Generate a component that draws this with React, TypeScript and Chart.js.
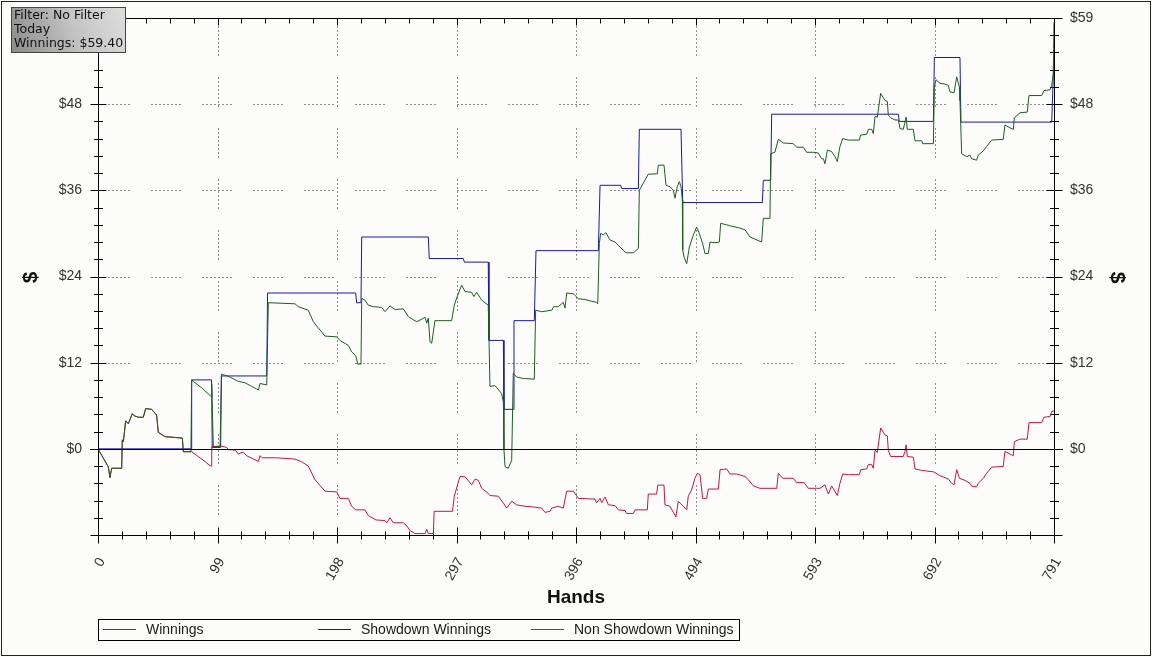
import React, { useEffect, useRef } from "react";
import { Chart, registerables } from "chart.js";

Chart.register(...registerables);

// ---- data (hand, $) ----
const winnings: [number, number][] = [
  [0, 0], [3, -0.9], [8.5, -2.5], [9.9, -4.0], [11.3, -2.7], [19.6, -2.7], [20.1, 1.25], [21, 1.0], [22.9, 3.9], [25.1, 3.5],
  [28.4, 4.9], [30, 4.6], [33.4, 4.4], [37.5, 4.4], [39.4, 5.6], [44.4, 5.5], [48.5, 4.7], [49.9, 2.3], [55.4, 1.7], [69.8, 1.5],
  [70.6, -0.4], [76.9, -0.4], [77.5, 9.6], [80.3, 9.2], [85.8, 8.5], [93.5, 7.3], [94.1, 9.0], [95.4, 0.3], [101, 0.3], [102.3, 10.4],
  [104, 10.3], [107.8, 10.1], [116.1, 9.4], [121.6, 9.2], [127.2, 8.7], [132.7, 8.2], [134, 9.1], [139.6, 8.9], [140.9, 20.35], [163, 20.2],
  [165.7, 19.8], [174, 19.3], [178.2, 17.7], [187.8, 15.7], [197.5, 15.6], [200.2, 15.1], [207.1, 14.4], [209.9, 13.5], [213.2, 13.0], [214.9, 11.8],
  [217.6, 11.8], [218.2, 20.95], [220.9, 20.7], [223.7, 20.0], [227.8, 19.8], [234.7, 19.7], [237.5, 19.1], [241.6, 19.9], [245.7, 19.4], [252.6, 19.5],
  [256.8, 18.4], [263.7, 17.7], [270.6, 18.3], [272, 17.5], [273.3, 18.2], [274.7, 14.9], [276.1, 14.7], [278.8, 17.85], [292.6, 17.85], [294.8, 20.0],
  [297.6, 21.4], [300.9, 22.8], [303.7, 21.9], [309.2, 21.8], [311, 21.2], [313.3, 21.8], [317.5, 20.7], [322.9, 20.0], [323.5, 15.6], [324.3, 8.7],
  [328.5, 8.8], [334, 7.7], [335.4, 6.5], [335.9, -0.1], [336.8, -2.5], [339.5, -2.7], [342.3, -1.6], [343.6, 10.5], [346.4, 10.0], [351.9, 9.8],
  [361, 9.7], [362.1, 19.3], [367.1, 19.1], [375.4, 19.3], [377, 19.8], [380.9, 19.8], [385, 20.4], [386.4, 19.6], [387.8, 21.7], [393.3, 21.6],
  [397.5, 20.9], [402.9, 20.8], [407.1, 20.6], [412.6, 20.4], [413.5, 20.2], [414.8, 28.6], [415.9, 30.0], [418.1, 29.8], [420.3, 30.1], [423.6, 29.1],
  [427.8, 28.8], [431.9, 28.1], [436.9, 27.3], [442.9, 27.3], [447.1, 27.9], [447.9, 36.0], [455.3, 38.25], [462.8, 38.3], [463.6, 39.5], [468.3, 39.5],
  [470, 36.7], [473.3, 36.5], [476, 36.0], [477.4, 34.9], [479.3, 36.5], [481, 37.2], [482.4, 36.5], [483.5, 34.6], [483.8, 27.7], [484.9, 26.7],
  [487.1, 25.8], [489.3, 28.1], [492, 29.5], [495.3, 30.9], [497.5, 30.0], [500.3, 28.6], [502.2, 27.2], [505, 27.2], [506.4, 28.8], [510.5, 28.7],
  [514.1, 28.8], [515.2, 31.4], [520.2, 31.2], [524.3, 31.0], [529.8, 30.8], [535.3, 30.5], [539.5, 29.5], [543.6, 29.2], [549.1, 28.8], [550.5, 32.1],
  [556, 32.1], [556.6, 41.1], [560.1, 41.3], [562.9, 43.1], [567, 42.6], [575.3, 42.5], [578.1, 42.0], [583.6, 42.0], [586.3, 41.3], [591.8, 41.3],
  [596, 41.2], [598.7, 40.4], [600.2, 40.4], [601.5, 39.7], [603.5, 41.6], [607, 41.4], [609.8, 40.7], [611.7, 40.0], [613.9, 42.1], [616.2, 43.2],
  [620.8, 43.0], [629.9, 43.0], [631.1, 43.7], [636, 43.8], [637.4, 44.5], [640.2, 44.5], [641.5, 43.9], [642.9, 46.3], [644.8, 46.2], [647.6, 49.5],
  [651.2, 48.5], [653.1, 48.4], [653.9, 46.45], [655.9, 46.1], [659.4, 45.8], [662.2, 45.8], [663.6, 44.6], [666.3, 44.5], [667.7, 45.5], [668.6, 46.2],
  [669.6, 44.5], [674.6, 44.5], [676, 42.9], [681.5, 42.9], [682.4, 42.5], [691.2, 42.5], [692, 50.4], [693.4, 51.4], [696.7, 50.9], [700.8, 50.8],
  [703.6, 50.6], [705, 49.7], [708.3, 49.6], [710.5, 51.8], [712.7, 50.4], [713.2, 48.5], [714.6, 41.1], [718.7, 40.7], [721.5, 40.9], [722.8, 40.4],
  [727, 40.2], [728.3, 40.9], [732.5, 41.5], [735.3, 42.1], [739.4, 43.0], [749, 43.1], [750.4, 45.1], [754.6, 44.7], [757.3, 44.5], [758.2, 46.1],
  [762.9, 46.8], [768.9, 46.9], [770.3, 49.2], [780.8, 49.2], [782.7, 49.9], [787.7, 50.0], [789.1, 50.6], [790.4, 52.3], [791, 59.4],
];

const showdown: [number, number][] = [
  [0, 0], [77, 0], [77.5, 9.6], [94, 9.6], [94.5, 0.2], [101.5, 0.2], [102, 10.15], [139.6, 10.15], [140.3, 21.7], [213.2, 21.7],
  [214, 20.35], [217.6, 20.35], [218.2, 29.5], [273.3, 29.5], [274.1, 26.5], [302.3, 26.5], [303.1, 26.0], [322.9, 26.0], [323.5, 15.1], [335.4, 15.1],
  [335.9, 5.5], [343.6, 5.5], [344.2, 17.85], [361, 17.85], [362.4, 27.6], [414, 27.6], [415.4, 36.7], [432.5, 36.7], [433.3, 36.25], [447.1, 36.25],
  [447.9, 44.5], [482.4, 44.5], [483.8, 34.3], [549.7, 34.3], [550.5, 37.4], [556.6, 37.4], [557.4, 46.6], [662.2, 46.6], [663, 45.6], [691.2, 45.6],
  [692, 54.5], [713.2, 54.5], [714, 45.5], [789.1, 45.5], [790.4, 51.8], [791, 54.0],
];

const nonShowdown: [number, number][] = [
  [0, 0], [3, -0.9], [8.5, -2.5], [9.9, -4.0], [11.3, -2.7], [19.6, -2.7], [20.1, 1.25], [21, 1.0], [22.9, 3.9], [25.1, 3.5],
  [28.4, 4.9], [30, 4.6], [33.4, 4.4], [37.5, 4.4], [39.4, 5.6], [44.4, 5.5], [48.5, 4.7], [49.9, 2.3], [55.4, 1.7], [69.8, 1.5],
  [70.6, -0.4], [77.5, -0.4], [83, -1.07], [88.5, -1.76], [92.7, -2.36], [93.8, -2.4], [94.1, 0.3], [101, 0.4], [106.5, 0.2], [107.8, -0.1],
  [113.4, -0.18], [116.1, -0.7], [120.2, -0.46], [123, -0.96], [132.7, -1.76], [134, -0.96], [136, -1.25], [147.8, -1.25], [163, -1.43], [168.5, -1.8],
  [174, -2.4], [179.5, -4.3], [187.8, -5.9], [197.5, -6.0], [200.2, -6.9], [207.1, -6.9], [209.9, -8.0], [213.2, -8.5], [220.9, -8.5], [223.7, -9.3],
  [230, -9.9], [237.5, -10.0], [238.9, -10.3], [241.6, -9.6], [244.3, -10.3], [252.6, -10.3], [255.4, -10.7], [258.2, -11.4], [262.3, -11.8], [270.6, -11.8],
  [272, -11.2], [273.3, -11.8], [277.5, -11.8], [278.1, -8.7], [293.3, -8.7], [294.8, -6.6], [299.5, -3.85], [303.7, -3.9], [309.2, -5.0], [312, -4.2],
  [314.7, -4.4], [317.5, -5.5], [322.9, -6.2], [324.3, -6.5], [331.2, -6.6], [335.4, -7.55], [338.2, -8.25], [342.3, -7.3], [346.4, -7.8], [353.3, -8.0],
  [360.2, -8.1], [367.1, -8.25], [369.9, -8.85], [374, -8.7], [375.4, -8.25], [380.9, -8.0], [385, -8.25], [387.8, -5.9], [393.3, -5.9], [397.5, -6.9],
  [411.2, -7.0], [412.6, -7.5], [415.4, -6.9], [416.8, -7.5], [419.5, -6.7], [422.3, -7.8], [427.8, -7.9], [430.5, -8.5], [436, -8.6], [437.4, -9.0],
  [442.9, -9.0], [444.3, -8.5], [454.5, -8.5], [455.3, -6.3], [462.2, -6.3], [463.1, -5.05], [468.3, -5.05], [469.1, -7.8], [473.3, -8.0], [476, -8.85],
  [478.2, -9.5], [480.1, -7.3], [481.5, -7.55], [484.3, -8.0], [487.1, -8.5], [488.4, -6.6], [491.2, -5.7], [493.9, -4.1], [495.9, -3.4], [498.1, -3.6],
  [500.3, -6.9], [503.6, -6.9], [505, -5.6], [513.3, -5.6], [514.7, -2.9], [520.2, -2.8], [522.9, -3.5], [528.4, -3.5], [535.3, -3.85], [538.1, -4.3],
  [542.2, -5.15], [547.7, -5.5], [561.6, -5.5], [562.9, -3.4], [566.5, -4.1], [575.3, -4.1], [578.1, -4.7], [584.2, -4.7], [587.7, -5.5], [594.6, -5.5],
  [597.4, -5.5], [601.5, -5.0], [602.9, -5.7], [604.3, -6.3], [607, -5.15], [611.7, -6.5], [613.9, -4.8], [616.2, -3.5], [620.8, -3.6], [629.9, -3.6],
  [631.1, -2.9], [636, -2.8], [637.4, -2.2], [640.2, -2.2], [641.5, -2.7], [642.9, -0.2], [644.8, -0.5], [647.6, 2.9], [651.2, 1.95], [653.1, 1.8],
  [653.9, -0.2], [655.9, -1.07], [666.3, -1.07], [667.7, -0.37], [668.6, 0.55], [669.6, -1.07], [674.6, -1.16], [676, -2.8], [681.5, -3.0], [691.2, -3.2],
  [693.4, -3.4], [696.7, -3.75], [703.6, -4.2], [706.3, -4.8], [708.3, -5.0], [710.5, -2.9], [712.7, -4.1], [717.4, -4.4], [721.5, -4.8], [722.8, -5.2],
  [727, -5.3], [728.3, -4.8], [732.5, -4.1], [735.3, -3.4], [739.4, -2.55], [749, -2.45], [750.4, -0.37], [756, -0.83], [757.3, -0.97], [758.2, 1.0],
  [762.9, 1.35], [768.9, 1.35], [770.3, 3.65], [780.8, 3.65], [782.7, 4.4], [787.7, 4.5], [789.1, 5.2], [791, 5.3],
];

const seriesNames = ["Winnings", "Showdown Winnings", "Non Showdown Winnings"];
const seriesColors = ["#1f5e1f", "#1a1aa8", "#cc1438"];

const xTickValues = [0, 98.875, 197.75, 296.625, 395.5, 494.375, 593.25, 692.125, 791];
const xTickLabels = ["0", "99", "198", "297", "396", "494", "593", "692", "791"];
const yTickValues = [0, 12, 24, 36, 48, 60];
const yTickLabels = ["$0", "$12", "$24", "$36", "$48", "$59"];
const X_MIN = 0;
const X_MAX = 791;
const Y_MIN = -12;
const Y_MAX = 60;
const X_MINOR_PER_MAJOR = 5;
const Y_MINOR_STEP = 2.4;

const infoLines = ["Filter: No Filter", "Today", "Winnings: $59.40"];
const xTitle = "Hands";
const yTitle = "$";

const TARGET = { left: 98, top: 18, right: 1054, bottom: 535 };

const SANS = "'Liberation Sans', Arial, sans-serif";
const GRID_DASH = [1, 3, 1, 3, 1, 3, 1, 3, 1, 3, 1, 3, 1, 3, 1, 22];
const HIDDEN = "rgba(0,0,0,0)";

const decor = {
  id: "decor",
  beforeDraw(chart: any) {
    const ctx = chart.ctx;
    ctx.save();
    ctx.fillStyle = "#fcfcfa";
    ctx.fillRect(0, 0, chart.width, chart.height);
    ctx.restore();
  },
  beforeDatasetsDraw(chart: any) {
    const ctx = chart.ctx;
    const a = chart.chartArea;
    const xs = chart.scales.x;
    const ys = chart.scales.y;
    const L = Math.round(a.left) + 0.5;
    const R = Math.round(a.right) + 0.5;
    const T = Math.round(a.top) + 0.5;
    const B = Math.round(a.bottom) + 0.5;
    ctx.save();
    ctx.lineWidth = 1;
    // dotted grid
    ctx.strokeStyle = "#222";
    ctx.setLineDash(GRID_DASH);
    yTickValues.forEach((v) => {
      if (v <= 0 || v >= Y_MAX) return;
      const y = Math.round(ys.getPixelForValue(v)) + 0.5;
      ctx.beginPath();
      ctx.moveTo(L + 2, y);
      ctx.lineTo(R, y);
      ctx.stroke();
    });
    xTickValues.forEach((v, i) => {
      if (i === 0 || i === xTickValues.length - 1) return;
      const x = Math.round(xs.getPixelForValue(v)) + 0.5;
      ctx.beginPath();
      ctx.moveTo(x, T + 8);
      ctx.lineTo(x, B);
      ctx.stroke();
    });
    ctx.setLineDash([]);
    ctx.strokeStyle = "#000";
    // frame
    ctx.strokeRect(L, T, R - L, B - T);
    // y ticks (both sides)
    ctx.beginPath();
    const nMinY = Math.round((Y_MAX - Y_MIN) / Y_MINOR_STEP);
    for (let k = 0; k <= nMinY; k++) {
      const v = Y_MIN + k * Y_MINOR_STEP;
      const y = Math.round(ys.getPixelForValue(v)) + 0.5;
      const r = Math.abs(v) % 12;
      const major = r < 1e-6 || Math.abs(r - 12) < 1e-6;
      const e = major ? 8 : 4.5;
      ctx.moveTo(L - e, y);
      ctx.lineTo(L + e, y);
      ctx.moveTo(R - e, y);
      ctx.lineTo(R + e, y);
    }
    // x ticks (bottom and top)
    const nMinX = (xTickValues.length - 1) * X_MINOR_PER_MAJOR;
    for (let k = 0; k <= nMinX; k++) {
      const v = X_MIN + ((X_MAX - X_MIN) * k) / nMinX;
      const x = Math.round(xs.getPixelForValue(v)) + 0.5;
      const major = k % X_MINOR_PER_MAJOR === 0;
      const e = major ? 8 : 4;
      ctx.moveTo(x, B - e);
      ctx.lineTo(x, B + e);
      ctx.moveTo(x, T);
      ctx.lineTo(x, T + (major ? 7 : 5));
    }
    ctx.stroke();
    ctx.restore();
  },
  afterDatasetsDraw(chart: any) {
    const ctx = chart.ctx;
    const a = chart.chartArea;
    const ys = chart.scales.y;
    ctx.save();
    ctx.strokeStyle = "#000";
    ctx.lineWidth = 1;
    const y0 = Math.round(ys.getPixelForValue(0)) + 0.5;
    ctx.beginPath();
    ctx.moveTo(Math.round(a.left) - 8, y0);
    ctx.lineTo(Math.round(a.right) + 9, y0);
    ctx.stroke();
    ctx.restore();
  },
  afterDraw(chart: any) {
    const ctx = chart.ctx;
    const a = chart.chartArea;
    ctx.save();
    // axis titles
    ctx.fillStyle = "#111";
    ctx.textAlign = "center";
    ctx.textBaseline = "middle";
    ctx.font = `bold 19px ${SANS}`;
    ctx.fillText(xTitle, (a.left + a.right) / 2, 598);
    const my = (a.top + a.bottom) / 2 + 1;
    ctx.font = `bold 21px ${SANS}`;
    ctx.save();
    ctx.translate(30, my);
    ctx.rotate(-Math.PI / 2);
    ctx.fillText(yTitle, 0, 1);
    ctx.restore();
    ctx.save();
    ctx.translate(1118, my);
    ctx.rotate(Math.PI / 2);
    ctx.fillText(yTitle, 0, 1);
    ctx.restore();

    // legend
    ctx.fillStyle = "#fcfcfa";
    ctx.fillRect(98.5, 619.5, 641, 21);
    ctx.strokeStyle = "#000";
    ctx.lineWidth = 1;
    ctx.strokeRect(98.5, 619.5, 641, 21);
    const lx = [103, 318, 531];
    ctx.font = `14px ${SANS}`;
    ctx.textAlign = "left";
    ctx.textBaseline = "middle";
    seriesNames.forEach((name, i) => {
      ctx.strokeStyle = seriesColors[i];
      ctx.beginPath();
      ctx.moveTo(lx[i], 629.5);
      ctx.lineTo(lx[i] + 33, 629.5);
      ctx.stroke();
      ctx.fillStyle = "#1a1a1a";
      ctx.fillText(name, lx[i] + 43, 630);
    });

    // info box
    const bx = 11.5, by = 7.5, bw = 114, bh = 45;
    const g = ctx.createLinearGradient(bx, by + bh, bx + bw, by);
    g.addColorStop(0, "#8a8a8a");
    g.addColorStop(0.55, "#c4c4c4");
    g.addColorStop(1, "#dedede");
    ctx.fillStyle = g;
    ctx.fillRect(bx, by, bw, bh);
    ctx.strokeStyle = "#444";
    ctx.strokeRect(bx, by, bw, bh);
    ctx.fillStyle = "#111";
    ctx.font = "12.5px 'DejaVu Sans', Verdana, sans-serif";
    ctx.textBaseline = "middle";
    infoLines.forEach((t, i) => ctx.fillText(t, 14, 15.5 + i * 14.3));

    // outer border
    ctx.strokeStyle = "#222";
    ctx.strokeRect(1.5, 1.5, 1149, 654);
    ctx.restore();
  },
};

export default function App() {
  const ref = useRef<HTMLCanvasElement | null>(null);
  useEffect(() => {
    document.body.style.margin = "0";
    const canvas = ref.current;
    if (!canvas) return;
    const fit = { left: 98, right: 98, bottom: 122, top: 18 };
    const mkSet = (i: number, data: [number, number][], order: number) => ({
      label: seriesNames[i],
      data: data.map(([x, y]) => ({ x, y })),
      borderColor: seriesColors[i],
      backgroundColor: seriesColors[i],
      borderWidth: 1,
      pointRadius: 0,
      tension: 0,
      fill: false,
      order,
    });
    const yScale = (position: "left" | "right") => ({
      type: "linear" as const,
      position,
      min: Y_MIN,
      max: Y_MAX,
      grid: { display: true, drawOnChartArea: false, drawTicks: true, tickLength: 16, color: HIDDEN },
      border: { display: false },
      afterBuildTicks: (s: any) => {
        s.ticks = yTickValues.map((value) => ({ value }));
      },
      afterFit: (s: any) => {
        s.width = position === "left" ? fit.left : fit.right;
      },
      ticks: {
        padding: 0,
        color: "#333",
        font: { family: SANS, size: 14 },
        callback: (_v: any, i: number) => yTickLabels[i],
      },
    });
    const chart = new Chart(canvas, {
      type: "line",
      data: {
        datasets: [
          mkSet(0, winnings, 0),
          mkSet(1, showdown, 2),
          mkSet(2, nonShowdown, 1),
        ],
      },
      options: {
        animation: false,
        responsive: false,
        devicePixelRatio: 1,
        layout: { padding: { top: fit.top, left: 0, right: 0, bottom: 0 } },
        plugins: { legend: { display: false }, tooltip: { enabled: false }, title: { display: false } },
        scales: {
          x: {
            type: "linear",
            min: X_MIN,
            max: X_MAX,
            grid: { display: true, drawOnChartArea: false, drawTicks: true, tickLength: 20, color: HIDDEN },
            border: { display: false },
            afterBuildTicks: (s: any) => {
              s.ticks = xTickValues.map((value) => ({ value }));
            },
            afterFit: (s: any) => {
              s.height = fit.bottom;
            },
            ticks: {
              autoSkip: false,
              minRotation: 60,
              maxRotation: 60,
              padding: 0,
              labelOffset: 4,
              color: "#333",
              font: { family: SANS, size: 14 },
              callback: (_v: any, i: number) => xTickLabels[i],
            },
          },
          y: yScale("left"),
          y2: yScale("right"),
        },
      } as any,
      plugins: [decor],
    });
    // nudge the layout so the plot area lands where the reference has it
    for (let pass = 0; pass < 3; pass++) {
      const ca = chart.chartArea;
      const dT = TARGET.top - ca.top;
      const dB = ca.bottom - TARGET.bottom;
      const dL = TARGET.left - ca.left;
      const dR = ca.right - TARGET.right;
      if (Math.abs(dT) < 0.5 && Math.abs(dB) < 0.5 && Math.abs(dL) < 0.5 && Math.abs(dR) < 0.5) break;
      fit.top = Math.max(0, fit.top + dT);
      fit.bottom += dB;
      fit.left += dL;
      fit.right += dR;
      (chart.options as any).layout.padding.top = fit.top;
      chart.update();
    }
    return () => chart.destroy();
  }, []);
  return (
    <div style={{ width: 1152, height: 657 }}>
      <canvas ref={ref} width={1152} height={657} style={{ display: "block" }} />
    </div>
  );
}
